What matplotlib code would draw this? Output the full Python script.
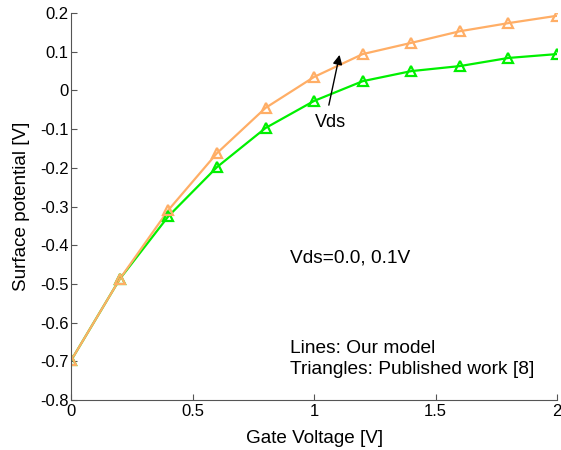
import matplotlib.pyplot as plt

plt.rcParams['font.family'] = ['Liberation Sans', 'DejaVu Sans']

# Data
gate_voltage = [0.0, 0.2, 0.4, 0.6, 0.8, 1.0, 1.2, 1.4, 1.6, 1.8, 2.0]
psi_vds_00 = [-0.697, -0.487, -0.325, -0.198, -0.097, -0.027, 0.024, 0.050, 0.063, 0.084, 0.094]
psi_vds_01 = [-0.697, -0.487, -0.309, -0.162, -0.045, 0.035, 0.094, 0.123, 0.153, 0.174, 0.193]

green = '#00f000'
orange = '#ffae66'

fig = plt.figure(figsize=(5.61, 4.5), dpi=100)
ax = fig.add_axes([0.127, 0.111, 0.866, 0.86])

# Lines: our model, Triangles: published
ax.plot(gate_voltage, psi_vds_00, color=green, lw=1.6)
ax.plot(gate_voltage, psi_vds_01, color=orange, lw=1.6)
ax.plot(gate_voltage, psi_vds_00, ls='none', marker='^', ms=7.5, mfc='none',
        mec=green, mew=1.6)
ax.plot(gate_voltage, psi_vds_01, ls='none', marker='^', ms=7.5, mfc='none',
        mec=orange, mew=1.6)

ax.annotate('', xy=(1.107, 0.099), xytext=(1.058, -0.045),
            arrowprops=dict(arrowstyle='-|>', color='black', lw=1,
                            mutation_scale=14))
ax.text(1.066, -0.084, 'Vds', fontsize=13, ha='center', va='center')
ax.text(0.9, -0.433, 'Vds=0.0, 0.1V', fontsize=13.8, ha='left', va='center')
ax.text(0.9, -0.666, 'Lines: Our model', fontsize=13.8, ha='left', va='center')
ax.text(0.9, -0.722, 'Triangles: Published work [8]', fontsize=13.8,
        ha='left', va='center')

ax.set_xlim(0, 2)
ax.set_ylim(-0.8, 0.2)
ax.set_xticks([0, 0.5, 1, 1.5, 2])
ax.set_xticklabels(['0', '0.5', '1', '1.5', '2'])
ax.set_yticks([-0.8, -0.7, -0.6, -0.5, -0.4, -0.3, -0.2, -0.1, 0, 0.1, 0.2])
ax.set_yticklabels(['-0.8', '-0.7', '-0.6', '-0.5', '-0.4', '-0.3', '-0.2',
                    '-0.1', '0', '0.1', '0.2'])
ax.tick_params(direction='in', labelsize=12, length=4, color='#555555')
ax.tick_params(axis='x', pad=3)
ax.tick_params(axis='y', pad=2)
for side in ['top', 'right']:
    ax.spines[side].set_visible(False)
for side in ['left', 'bottom']:
    ax.spines[side].set_color('#555555')

ax.set_xlabel('Gate Voltage [V]', fontsize=13.6, labelpad=8)
ax.set_ylabel('Surface potential [V]', fontsize=13.6, labelpad=7)

fig.savefig('out.png', dpi=100)
